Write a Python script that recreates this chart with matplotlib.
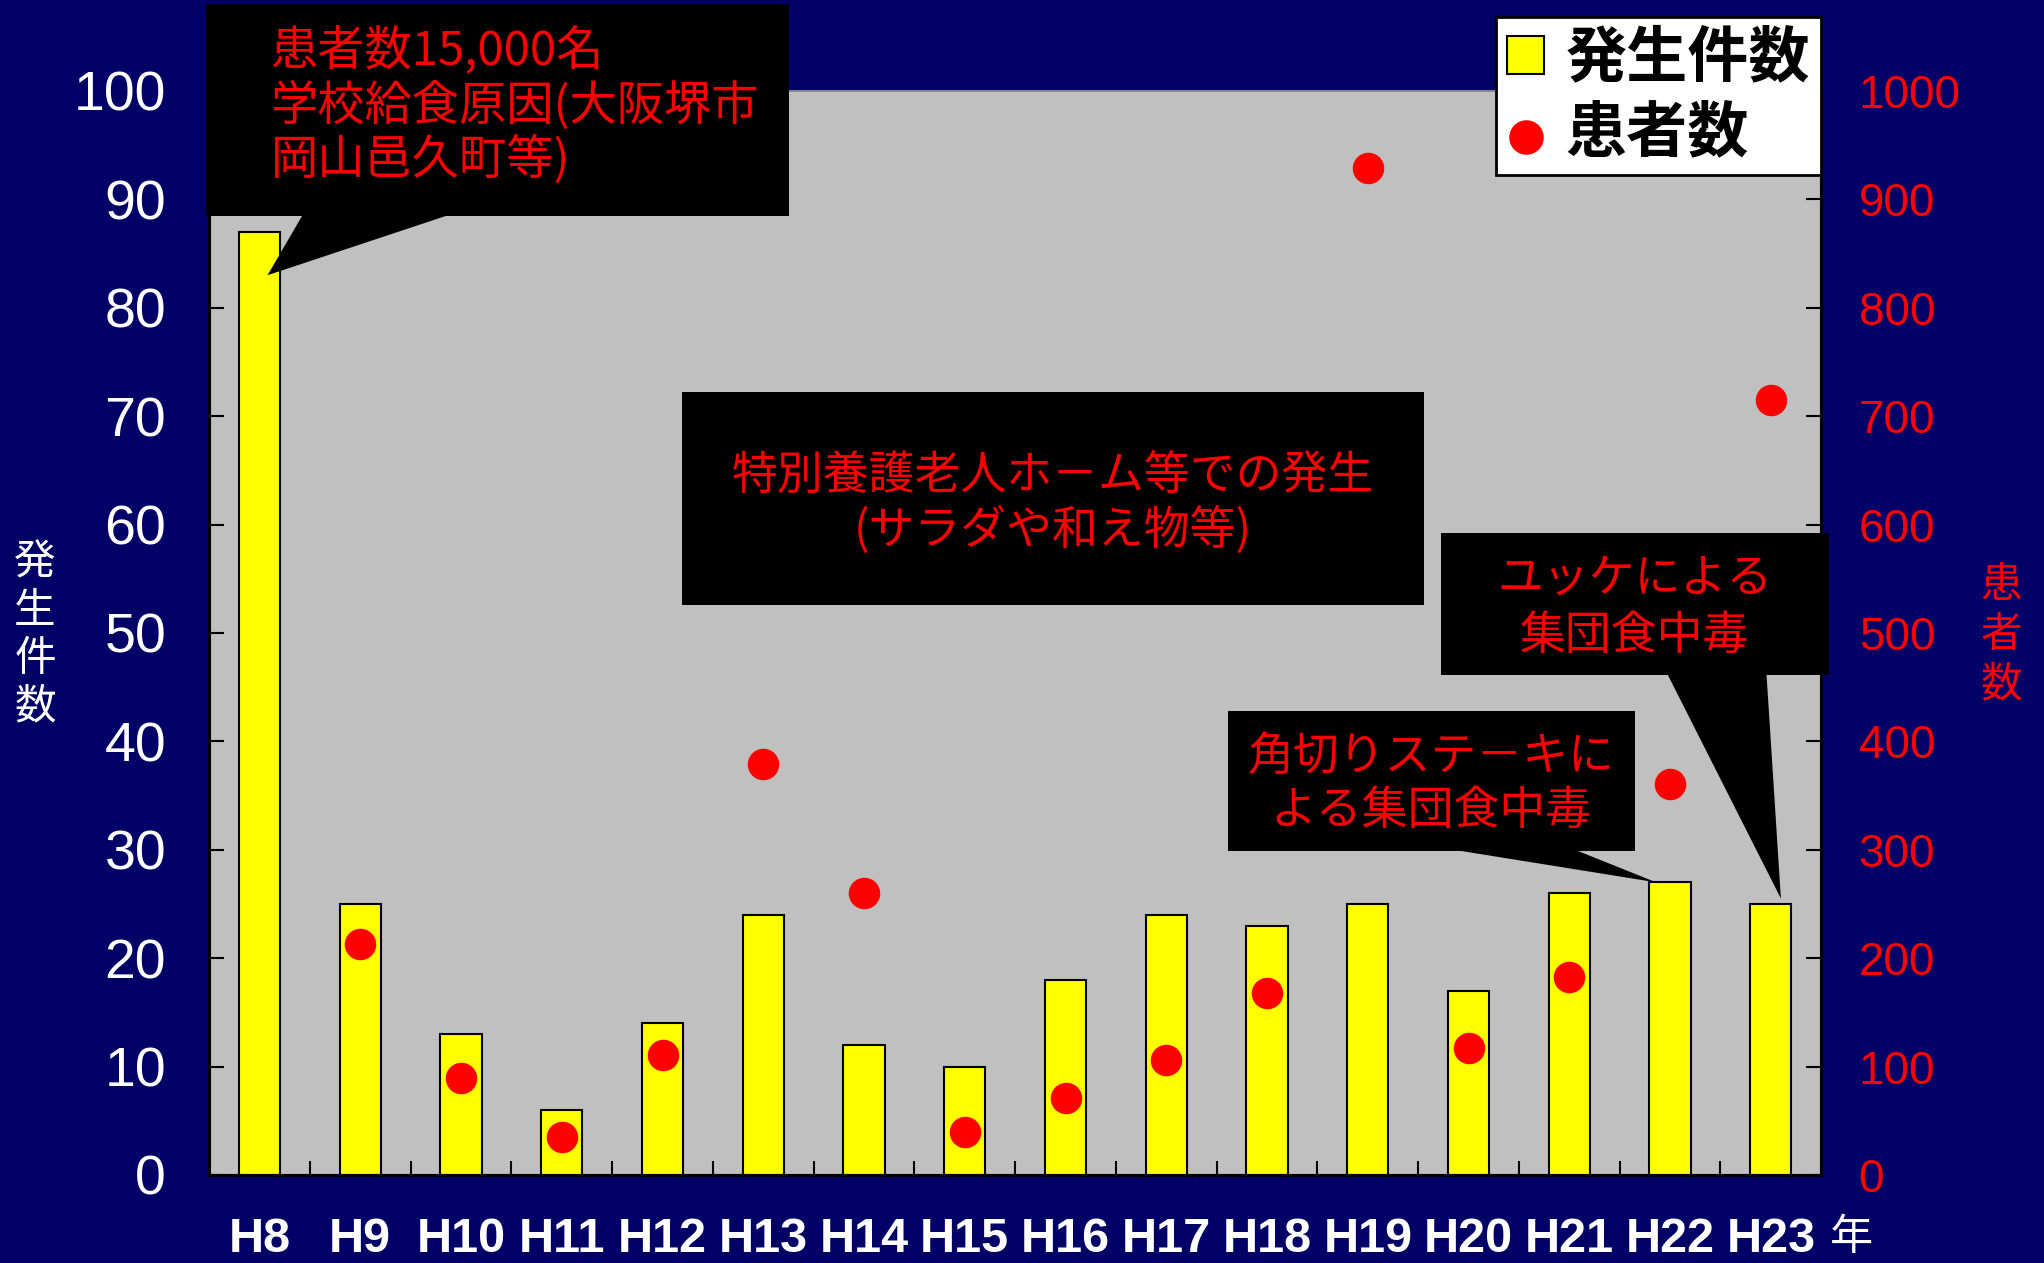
import matplotlib
matplotlib.use("Agg")
import matplotlib.pyplot as plt
from matplotlib.patches import Rectangle, Polygon

plt.rcParams['font.family'] = ['Liberation Sans', 'Noto Sans CJK JP']

JP = ['Noto Sans CJK JP', 'DejaVu Sans']
NARROW = ['Liberation Sans Narrow', 'Liberation Sans']

# 年度 (平成)
years = ["H8", "H9", "H10", "H11", "H12", "H13", "H14", "H15",
         "H16", "H17", "H18", "H19", "H20", "H21", "H22", "H23"]
# 発生件数
counts = [87, 25, 13, 6, 14, 24, 12, 10, 18, 24, 23, 25, 17, 26, 27, 25]
# 患者数 (H8 は 15,000名 で範囲外)
patients = [None, 213, 89, 35, 111, 379, 260, 40, 71, 106, 168, 929, 117, 183, 361, 715]

navy = "#000066"
bg = "#C0C0C0"

fig = plt.figure(figsize=(20.44, 12.63), dpi=100, facecolor=navy)
ax = fig.add_axes([0.1023, 0.0697, 0.7887, 0.8583])
ax.set_facecolor(bg)
ax2 = ax.twinx()

x = list(range(len(years)))
bars = ax.bar(x, counts, width=0.41, color="#FFFF00", edgecolor="black",
              linewidth=1.5, zorder=2)

px = [i for i, p in enumerate(patients) if p is not None]
py = [p for p in patients if p is not None]
dots = ax2.scatter(px, py, s=470, color="#FF0000", zorder=3)

ax.set_xlim(-0.5, len(years) - 0.5)
ax.set_ylim(0, 100)
ax2.set_ylim(0, 1000)
ax.set_yticks(range(0, 101, 10))
ax2.set_yticks(range(0, 1001, 100))

ax.set_xticks(x)
ax.set_xticklabels(years)
ax.set_xticks([i + 0.5 for i in x[:-1]], minor=True)
ax.tick_params(axis="x", which="major", length=0, pad=30)
ax.tick_params(axis="x", which="minor", direction="in", length=10, width=1.5)
for lab in ax.get_xticklabels():
    lab.set_family(NARROW)
    lab.set_fontsize(35)
    lab.set_fontweight("bold")
    lab.set_color("white")

ax.tick_params(axis="y", direction="in", length=11, width=1.5, pad=31,
               labelsize=40, labelcolor="white")
ax2.tick_params(axis="y", direction="in", length=11, width=1.5, pad=27,
                labelsize=33, labelcolor="#FF0000")

for a in (ax, ax2):
    for side in ("left", "right", "bottom"):
        a.spines[side].set_color("black")
        a.spines[side].set_linewidth(2.2)
    a.spines["top"].set_color("#888888")
    a.spines["top"].set_linewidth(1.2)

# 軸タイトル (縦書き)
fig.text(0.0171, 0.497, "\n".join("発生件数"), color="white", fontsize=30,
         family=JP, ha="center", va="center", linespacing=1.22)
fig.text(0.979, 0.497, "\n".join("患者数"), color="#FF0000", fontsize=30,
         family=JP, ha="center", va="center", linespacing=1.26)
fig.text(0.906, 0.020, "年", color="white", fontsize=31, family=JP,
         ha="center", va="center")


def callout(x0, x1, y0, y1, base=None, tip=None):
    """黒い吹き出し (左軸のデータ座標)"""
    ax2.add_patch(Rectangle((x0, y0), x1 - x0, y1 - y0, facecolor="black",
                            edgecolor="none", transform=ax.transData,
                            clip_on=False, zorder=5))
    if base is not None:
        (bx0, bx1, by) = base
        ax2.add_patch(Polygon([(bx0, by), (bx1, by), tip], closed=True,
                              facecolor="black", edgecolor="none",
                              transform=ax.transData, clip_on=False, zorder=5))


# H8 の学校給食
callout(-0.526, 5.256, 88.45, 108.06, base=(0.431, 1.893, 88.6),
        tip=(0 + 0.08, counts[0] - 4))
ax2.text(0.108, 98.6, "患者数15,000名\n学校給食原因(大阪堺市\n岡山邑久町等)",
         transform=ax.transData, color="#FF0000", fontsize=34, family=JP,
         ha="left", va="center", linespacing=1.13, zorder=6, clip_on=False)

# 特別養護老人ホーム
callout(4.195, 11.555, 52.6, 72.2)
ax2.text(7.875, 62.0, "特別養護老人ホ－ム等での発生\n(サラダや和え物等)",
         transform=ax.transData, color="#FF0000", fontsize=33, family=JP,
         ha="center", va="center", linespacing=1.16, zorder=6)

# H23 ユッケ
callout(11.724, 15.578, 46.1, 59.2, base=(13.974, 14.957, 46.2),
        tip=(15 + 0.1, counts[15] + 0.5))
ax2.text(13.65, 52.4, "ユッケによる\n集団食中毒",
         transform=ax.transData, color="#FF0000", fontsize=33, family=JP,
         ha="center", va="center", linespacing=1.22, zorder=6, clip_on=False)

# H22 角切りステーキ
callout(9.615, 13.651, 29.84, 42.84, base=(11.918, 13.082, 29.9),
        tip=(14 - 0.14, counts[14]))
ax2.text(11.63, 36.1, "角切りステ－キに\nよる集団食中毒",
         transform=ax.transData, color="#FF0000", fontsize=33, family=JP,
         ha="center", va="center", linespacing=1.16, zorder=6)

leg = ax2.legend([bars, dots], ["発生件数", "患者数"], loc="upper right",
                 bbox_to_anchor=(0.8909, 0.9865), bbox_transform=fig.transFigure,
                 prop={"family": JP, "size": 44, "weight": "bold"},
                 frameon=True, fancybox=False, framealpha=1, facecolor="white",
                 edgecolor="black", borderpad=0.18, handletextpad=0.35,
                 handlelength=0.6, handleheight=0.6, labelspacing=0.22,
                 borderaxespad=0, markerscale=1.1)
leg.get_frame().set_linewidth(2)
leg.set_zorder(10)

fig.savefig("out.png", dpi=100, facecolor=navy)
